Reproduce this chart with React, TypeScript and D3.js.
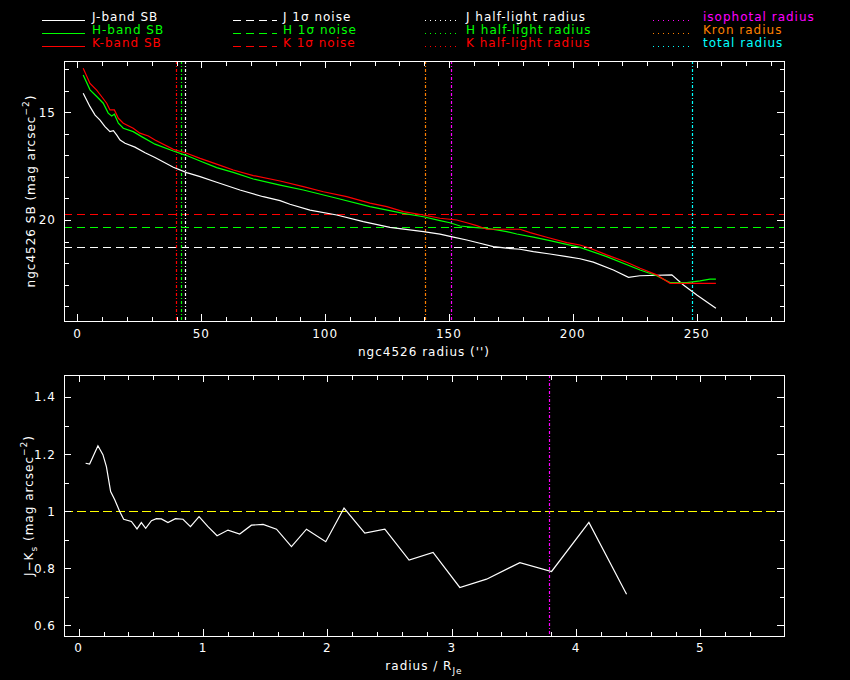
import * as d3 from "d3";
import { useEffect, useRef } from "react";

// surface brightness profiles (radius in arcsec, SB in mag arcsec^-2)
const jRadius = [2.3, 5.05, 7.1, 9.1, 11.1, 13.1, 14.5, 15.8, 17.2, 19.2, 23.2, 27.3, 31.3, 38.7, 44.1, 49.5, 56.2, 65.6, 75, 81.8, 85.8, 93.9, 104.7, 115.4, 126.2, 139.7, 146.4, 151.8, 157.2, 162.5, 167.9, 173.3, 178.7, 184.1, 190.8, 197.6, 202.9, 208.3, 216.4, 222.5, 227.1, 240, 244.7, 250.1, 257.8];
const jSB = [14.12, 14.74, 15.13, 15.36, 15.67, 15.9, 15.85, 16.05, 16.29, 16.44, 16.62, 16.88, 17.1, 17.55, 17.8, 17.99, 18.25, 18.61, 18.92, 19.1, 19.27, 19.54, 19.77, 20.08, 20.34, 20.54, 20.66, 20.8, 20.93, 21.08, 21.24, 21.31, 21.36, 21.47, 21.58, 21.7, 21.8, 21.96, 22.32, 22.66, 22.59, 22.55, 23.02, 23.48, 24.1];

const hRadius = [2.3, 5.05, 7.75, 10.4, 12.4, 13.8, 14.9, 16.5, 18.5, 22.5, 25.9, 31.3, 38.7, 44.1, 49.5, 56.2, 62.9, 71, 81.8, 91.2, 104.7, 118.1, 131.6, 139.7, 146.4, 150.4, 154.5, 159.9, 165.3, 169.3, 173.3, 177.4, 184.1, 190.8, 202.9, 213.7, 227.2, 233.9, 239.3, 246, 251.4, 255.4, 257.8];
const hSB = [13.27, 13.96, 14.27, 14.58, 15.04, 15.17, 15.09, 15.51, 15.74, 15.9, 16.13, 16.48, 16.8, 17.01, 17.26, 17.57, 17.79, 18.1, 18.38, 18.61, 18.99, 19.38, 19.69, 19.85, 20.03, 20.13, 20.28, 20.34, 20.39, 20.46, 20.54, 20.65, 20.8, 20.96, 21.27, 21.7, 22.32, 22.59, 22.91, 22.91, 22.83, 22.75, 22.75];

const kRadius = [2.3, 5.05, 7.75, 9.8, 11.8, 13.1, 14.9, 16.5, 18.5, 22.5, 25.2, 28.6, 31.3, 38.7, 44.1, 49.5, 56.2, 62.9, 71, 81.8, 91.2, 99.3, 108.7, 118.1, 124.9, 131.6, 139.7, 146.4, 153.1, 157.2, 161.2, 165.3, 173.3, 178.7, 182.8, 189.5, 197.6, 202.9, 207, 213.7, 221.8, 227.2, 233.9, 239.3, 243.3, 257.8];
const kSB = [12.96, 13.66, 13.97, 14.28, 14.58, 14.89, 14.89, 15.28, 15.51, 15.74, 15.97, 16.1, 16.29, 16.72, 16.9, 17.14, 17.41, 17.68, 17.94, 18.19, 18.45, 18.69, 18.92, 19.22, 19.38, 19.61, 19.77, 19.92, 20.0, 20.13, 20.26, 20.43, 20.43, 20.43, 20.59, 20.8, 21.05, 21.16, 21.31, 21.62, 21.96, 22.24, 22.55, 22.94, 22.94, 22.94];

// 1 sigma noise levels
const noiseLevels = [
  { band: "J", value: 21.27, color: "#ffffff" },
  { band: "H", value: 20.34, color: "#00ff00" },
  { band: "K", value: 19.74, color: "#ff0000" },
];

// characteristic radii (arcsec)
const radiusMarks = [
  { name: "J half-light", value: 43.5, color: "#ffffff" },
  { name: "H half-light", value: 41.9, color: "#00ff00" },
  { name: "K half-light", value: 39.7, color: "#ff0000" },
  { name: "isophotal", value: 151, color: "#ff00ff" },
  { name: "Kron", value: 140.5, color: "#ff8000" },
  { name: "total", value: 248.3, color: "#00ffff" },
];

// J-Ks colour profile (radius / R_Je)
const colorRadius = [0.056, 0.088, 0.155, 0.195, 0.223, 0.257, 0.29, 0.33, 0.362, 0.424, 0.469, 0.504, 0.539, 0.585, 0.625, 0.665, 0.718, 0.778, 0.839, 0.899, 0.968, 1.04, 1.113, 1.201, 1.295, 1.389, 1.483, 1.591, 1.711, 1.832, 1.987, 2.134, 2.301, 2.462, 2.657, 2.85, 3.065, 3.28, 3.548, 3.803, 4.103, 4.406];
const colorJK = [1.168, 1.165, 1.229, 1.198, 1.156, 1.069, 1.04, 0.999, 0.972, 0.964, 0.938, 0.96, 0.94, 0.967, 0.974, 0.973, 0.96, 0.974, 0.972, 0.946, 0.981, 0.946, 0.914, 0.934, 0.92, 0.951, 0.954, 0.937, 0.876, 0.937, 0.893, 1.011, 0.923, 0.937, 0.829, 0.856, 0.733, 0.762, 0.82, 0.789, 0.961, 0.709];
const colorRef = 1.0;
const isoRadiusNorm = 3.78;

const sbTicks = [15, 20];
const radiusTicks = [0, 50, 100, 150, 200, 250];
const colorTicks = [0.6, 0.8, 1, 1.2, 1.4];
const normTicks = [0, 1, 2, 3, 4, 5];

const legendCols = [
  [
    { label: "J-band SB", color: "#ffffff", dash: "none" },
    { label: "H-band SB", color: "#00ff00", dash: "none" },
    { label: "K-band SB", color: "#ff0000", dash: "none" },
  ],
  [
    { label: "J 1σ noise", color: "#ffffff", dash: "8,5" },
    { label: "H 1σ noise", color: "#00ff00", dash: "8,5" },
    { label: "K 1σ noise", color: "#ff0000", dash: "8,5" },
  ],
  [
    { label: "J half-light radius", color: "#ffffff", dash: "1,4" },
    { label: "H half-light radius", color: "#00ff00", dash: "1,4" },
    { label: "K half-light radius", color: "#ff0000", dash: "1,4" },
  ],
  [
    { label: "isophotal radius", color: "#ff00ff", dash: "1,4" },
    { label: "Kron radius", color: "#ff8000", dash: "1,4" },
    { label: "total radius", color: "#00ffff", dash: "1,4" },
  ],
];

const W = 850;
const H = 680;
const FONT = "DejaVu Sans, sans-serif";

type Sel = d3.Selection<SVGGElement, unknown, null, undefined>;

function drawTicks(
  g: Sel,
  x0: number,
  x1: number,
  y0: number,
  y1: number,
  xs: number[],
  xMajor: number[],
  ys: number[],
  yMajor: number[],
  xScale: (v: number) => number,
  yScale: (v: number) => number
) {
  const isMajor = (arr: number[], v: number) =>
    arr.some((m) => Math.abs(m - v) < 1e-6);
  xs.forEach((v) => {
    const px = Math.round(xScale(v)) + 0.5;
    const len = isMajor(xMajor, v) ? 7 : 4.5;
    g.append("line").attr("x1", px).attr("x2", px).attr("y1", y1).attr("y2", y1 - len);
    g.append("line").attr("x1", px).attr("x2", px).attr("y1", y0).attr("y2", y0 + len);
  });
  ys.forEach((v) => {
    const py = Math.round(yScale(v)) + 0.5;
    const len = isMajor(yMajor, v) ? 7 : 4.5;
    g.append("line").attr("x1", x0).attr("x2", x0 + len).attr("y1", py).attr("y2", py);
    g.append("line").attr("x1", x1).attr("x2", x1 - len).attr("y1", py).attr("y2", py);
  });
}

export default function App() {
  const svgRef = useRef<SVGSVGElement | null>(null);

  useEffect(() => {
    document.body.style.margin = "0";
    document.body.style.background = "#000";
    if (!svgRef.current) return;
    const svg = d3.select(svgRef.current);
    svg.selectAll("*").remove();

    svg.append("rect").attr("width", W).attr("height", H).attr("fill", "#000");

    // ---------- top panel ----------
    const top = { left: 64, right: 784, top: 61, bottom: 321 };
    const x = d3.scaleLinear().domain([-5.45, 285.3]).range([top.left, top.right]);
    const y = d3.scaleLinear().domain([12.62, 24.69]).range([top.top, top.bottom]);

    const gTop = svg.append("g");

    // noise levels
    noiseLevels.forEach((n) => {
      gTop
        .append("line")
        .attr("x1", top.left)
        .attr("x2", top.right)
        .attr("y1", Math.round(y(n.value)) + 0.5)
        .attr("y2", Math.round(y(n.value)) + 0.5)
        .attr("stroke", n.color)
        .attr("stroke-width", 1.2)
        .attr("stroke-dasharray", "8,5");
    });

    // radius markers
    radiusMarks.forEach((r) => {
      gTop
        .append("line")
        .attr("x1", Math.round(x(r.value)) + 0.5)
        .attr("x2", Math.round(x(r.value)) + 0.5)
        .attr("y1", top.top)
        .attr("y2", top.bottom)
        .attr("stroke", r.color)
        .attr("stroke-width", 1.2)
        .attr("stroke-dasharray", "3,2,1,2");
    });

    const sbLine = d3
      .line<[number, number]>()
      .x((d) => x(d[0]))
      .y((d) => y(d[1]));

    const profiles = [
      { r: jRadius, sb: jSB, color: "#ffffff" },
      { r: hRadius, sb: hSB, color: "#00ff00" },
      { r: kRadius, sb: kSB, color: "#ff0000" },
    ];
    profiles.forEach((p) => {
      gTop
        .append("path")
        .datum(p.r.map((v, i) => [v, p.sb[i]] as [number, number]))
        .attr("fill", "none")
        .attr("stroke", p.color)
        .attr("stroke-width", 1.2)
        .attr("d", sbLine);
    });

    // frame + ticks
    const axTop = svg.append("g").attr("stroke", "#fff").attr("shape-rendering", "crispEdges");
    axTop
      .append("rect")
      .attr("x", top.left + 0.5)
      .attr("y", top.top + 0.5)
      .attr("width", top.right - top.left)
      .attr("height", top.bottom - top.top)
      .attr("fill", "none");
    drawTicks(
      axTop,
      top.left,
      top.right,
      top.top,
      top.bottom,
      d3.range(0, 290, 10),
      radiusTicks,
      d3.range(13, 25, 1),
      sbTicks,
      x,
      y
    );

    const txt = svg
      .append("g")
      .attr("fill", "#fff")
      .attr("font-family", FONT)
      .attr("font-size", 12)
      .attr("letter-spacing", 1);

    radiusTicks.forEach((v) => {
      txt.append("text").attr("x", x(v)).attr("y", 338).attr("text-anchor", "middle").text(v);
    });
    sbTicks.forEach((v) => {
      txt.append("text").attr("x", 56).attr("y", y(v) + 4.5).attr("text-anchor", "end").text(v);
    });
    txt
      .append("text")
      .attr("x", (top.left + top.right) / 2)
      .attr("y", 356)
      .attr("text-anchor", "middle")
      .text("ngc4526 radius ('')");

    const yl1 = txt
      .append("text")
      .attr("transform", `translate(35,${(top.top + top.bottom) / 2}) rotate(-90)`)
      .attr("text-anchor", "middle");
    yl1.append("tspan").text("ngc4526 SB (mag arcsec");
    yl1.append("tspan").attr("dy", -6).attr("font-size", 9).text("−2");
    yl1.append("tspan").attr("dy", 6).text(")");

    // ---------- bottom panel ----------
    const bot = { left: 64, right: 784, top: 375, bottom: 636 };
    const x2 = d3.scaleLinear().domain([-0.118, 5.672]).range([bot.left, bot.right]);
    const y2 = d3.scaleLinear().domain([1.477, 0.563]).range([bot.top, bot.bottom]);

    const gBot = svg.append("g");
    gBot
      .append("line")
      .attr("x1", bot.left)
      .attr("x2", bot.right)
      .attr("y1", Math.round(y2(colorRef)) + 0.5)
      .attr("y2", Math.round(y2(colorRef)) + 0.5)
      .attr("stroke", "#ffff00")
      .attr("stroke-width", 1.2)
      .attr("stroke-dasharray", "9,4");
    gBot
      .append("line")
      .attr("x1", Math.round(x2(isoRadiusNorm)) + 0.5)
      .attr("x2", Math.round(x2(isoRadiusNorm)) + 0.5)
      .attr("y1", bot.top)
      .attr("y2", bot.bottom)
      .attr("stroke", "#ff00ff")
      .attr("stroke-width", 1.2)
      .attr("stroke-dasharray", "3,2,1,2");

    const colLine = d3
      .line<[number, number]>()
      .x((d) => x2(d[0]))
      .y((d) => y2(d[1]));
    gBot
      .append("path")
      .datum(colorRadius.map((v, i) => [v, colorJK[i]] as [number, number]))
      .attr("fill", "none")
      .attr("stroke", "#fff")
      .attr("stroke-width", 1.2)
      .attr("d", colLine);

    const axBot = svg.append("g").attr("stroke", "#fff").attr("shape-rendering", "crispEdges");
    axBot
      .append("rect")
      .attr("x", bot.left + 0.5)
      .attr("y", bot.top + 0.5)
      .attr("width", bot.right - bot.left)
      .attr("height", bot.bottom - bot.top)
      .attr("fill", "none");
    drawTicks(
      axBot,
      bot.left,
      bot.right,
      bot.top,
      bot.bottom,
      d3.range(0, 28).map((i) => +(i * 0.2).toFixed(1)),
      normTicks,
      d3.range(6, 15).map((i) => +(i * 0.1).toFixed(1)),
      colorTicks,
      x2,
      y2
    );

    normTicks.forEach((v) => {
      txt.append("text").attr("x", x2(v)).attr("y", 652).attr("text-anchor", "middle").text(v);
    });
    colorTicks.forEach((v) => {
      txt.append("text").attr("x", 56).attr("y", y2(v) + 4.5).attr("text-anchor", "end").text(v);
    });
    const xl2 = txt
      .append("text")
      .attr("x", (bot.left + bot.right) / 2)
      .attr("y", 670)
      .attr("text-anchor", "middle");
    xl2.append("tspan").text("radius / R");
    xl2.append("tspan").attr("dy", 4).attr("font-size", 9).text("Je");

    const yl2 = txt
      .append("text")
      .attr("transform", `translate(33,${(bot.top + bot.bottom) / 2}) rotate(-90)`)
      .attr("text-anchor", "middle");
    yl2.append("tspan").text("J−K");
    yl2.append("tspan").attr("dy", 4).attr("font-size", 9).text("s");
    yl2.append("tspan").attr("dy", -4).text(" (mag arcsec");
    yl2.append("tspan").attr("dy", -6).attr("font-size", 9).text("−2");
    yl2.append("tspan").attr("dy", 6).text(")");

    // ---------- legend ----------
    const legendX = [
      { x0: 42, x1: 85, tx: 92 },
      { x0: 233, x1: 277, tx: 283 },
      { x0: 425, x1: 457, tx: 466 },
      { x0: 653, x1: 693, tx: 703 },
    ];
    const rowY = [20, 33, 46];
    legendCols.forEach((col, ci) => {
      col.forEach((item, ri) => {
        svg
          .append("line")
          .attr("x1", legendX[ci].x0)
          .attr("x2", legendX[ci].x1)
          .attr("y1", rowY[ri] + 0.5)
          .attr("y2", rowY[ri] + 0.5)
          .attr("stroke", item.color)
          .attr("stroke-width", 1.2)
          .attr("stroke-dasharray", item.dash);
        svg
          .append("text")
          .attr("x", legendX[ci].tx)
          .attr("y", rowY[ri] + 1)
          .attr("fill", item.color)
          .attr("font-family", FONT)
          .attr("font-size", 12)
          .attr("letter-spacing", 1)
          .text(item.label);
      });
    });
  }, []);

  return (
    <svg
      ref={svgRef}
      width={W}
      height={H}
      style={{ position: "absolute", left: 0, top: 0, display: "block" }}
    />
  );
}
